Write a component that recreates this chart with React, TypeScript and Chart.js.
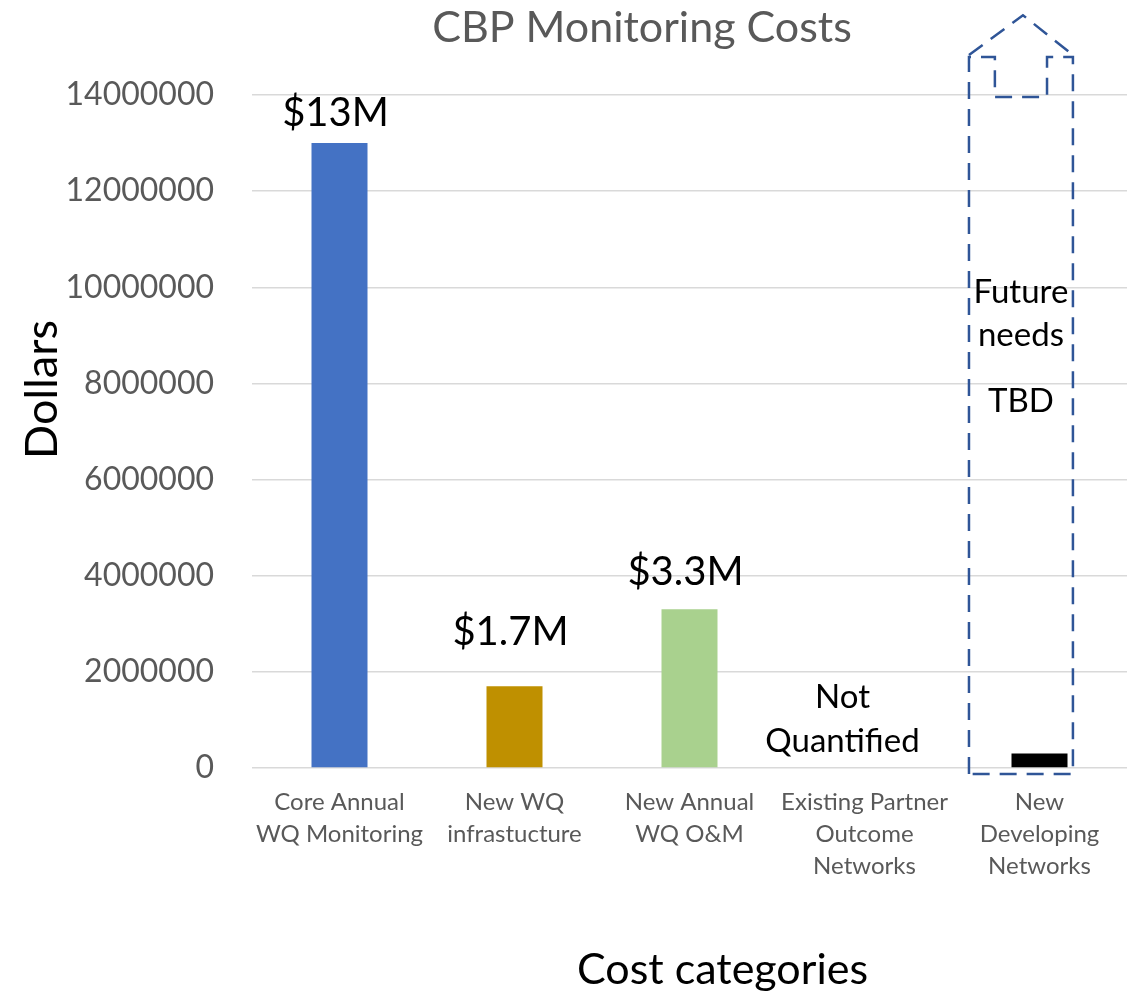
import React, { useEffect, useRef } from "react";
import { Chart, registerables } from "chart.js";

Chart.register(...registerables);

const categories: string[][] = [
  ["Core Annual", "WQ Monitoring"],
  ["New WQ", "infrastucture"],
  ["New Annual", "WQ O&M"],
  ["Existing Partner", "Outcome", "Networks"],
  ["New", "Developing", "Networks"],
];
const costValues: (number | null)[] = [13000000, 1700000, 3300000, null, 300000];
const barColors = ["#4472C4", "#BF9000", "#A9D18E", "#A5A5A5", "#000000"];
const valueLabels: (string | null)[] = ["$13M", "$1.7M", "$3.3M", null, null];
const labelOffsets = [30, 54, 37, 0, 0];
const yTicks = [0, 2000000, 4000000, 6000000, 8000000, 10000000, 12000000, 14000000];
const notQuantifiedText = ["Not", "Quantified"];
const futureText = ["Future", "needs", "TBD"];

const FONT = "Lato, 'Open Sans', sans-serif";

const decorPlugin = {
  id: "decor",
  afterDatasetsDraw(chart: any) {
    const ctx = chart.ctx;
    const xs = chart.scales.x;
    const ys = chart.scales.y;
    const meta = chart.getDatasetMeta(0);
    const catW = xs.getPixelForValue(1) - xs.getPixelForValue(0);

    // value labels
    ctx.save();
    ctx.fillStyle = "#000";
    ctx.font = `40px ${FONT}`;
    ctx.textAlign = "center";
    ctx.textBaseline = "middle";
    valueLabels.forEach((lab, i) => {
      if (!lab) return;
      const el = meta.data[i];
      ctx.fillText(lab, el.x - 4, el.y - labelOffsets[i]);
    });

    // Not Quantified
    ctx.font = `33px ${FONT}`;
    const nqx = xs.getPixelForValue(3) - 22;
    notQuantifiedText.forEach((t, k) => {
      ctx.fillText(t, nqx, ys.bottom - 71 + k * 44);
    });

    // arrow shape
    const cx = xs.getPixelForValue(4) - catW * 0.106;
    const L = cx - catW * 0.297;
    const R = cx + catW * 0.297;
    const nL = cx - catW * 0.149;
    const nR = cx + catW * 0.149;
    const bottom = ys.getPixelForValue(-125000);
    const shoulder = ys.getPixelForValue(14790000);
    const notch = ys.getPixelForValue(13960000);
    const apex = ys.getPixelForValue(15660000);
    ctx.strokeStyle = "#2F5597";
    ctx.lineWidth = 2.5;
    ctx.setLineDash([17, 10]);
    ctx.beginPath();
    ctx.moveTo(L, bottom);
    ctx.lineTo(L, shoulder);
    ctx.lineTo(nL, shoulder);
    ctx.lineTo(nL, notch);
    ctx.lineTo(nR, notch);
    ctx.lineTo(nR, shoulder);
    ctx.lineTo(R, shoulder);
    ctx.lineTo(R, bottom);
    ctx.closePath();
    ctx.stroke();
    ctx.beginPath();
    ctx.moveTo(L, shoulder - 2);
    ctx.lineTo(cx + 2, apex);
    ctx.lineTo(R, shoulder - 2);
    ctx.stroke();
    ctx.setLineDash([]);

    // Future needs TBD
    ctx.fillStyle = "#000";
    ctx.font = `33px ${FONT}`;
    const fy = [ys.getPixelForValue(9900000), ys.getPixelForValue(8990000), ys.getPixelForValue(7620000)];
    futureText.forEach((t, k) => ctx.fillText(t, cx, fy[k]));
    ctx.restore();
  },
  afterDraw(chart: any) {
    const ctx = chart.ctx;
    const area = chart.chartArea;
    ctx.save();
    ctx.textAlign = "center";
    ctx.textBaseline = "middle";
    ctx.fillStyle = "#595959";
    ctx.font = `43px ${FONT}`;
    ctx.fillText("CBP Monitoring Costs", 642, 28);
    ctx.fillStyle = "#000";
    ctx.font = `43px ${FONT}`;
    ctx.fillText("Cost categories", (area.left + area.right) / 2 + 33, 970);
    ctx.translate(42, (area.top + area.bottom) / 2 - 42);
    ctx.rotate(-Math.PI / 2);
    ctx.font = `45px ${FONT}`;
    ctx.fillText("Dollars", 0, 0);
    ctx.restore();
  },
};

export default function App() {
  const ref = useRef<HTMLCanvasElement>(null);
  useEffect(() => {
    document.body.style.margin = "0";
    const chart = new Chart(ref.current!, {
      type: "bar",
      data: {
        labels: categories,
        datasets: [
          {
            data: costValues,
            backgroundColor: barColors,
            barPercentage: 0.64,
            categoryPercentage: 0.5,
          },
        ],
      },
      options: {
        animation: false,
        responsive: false,
        maintainAspectRatio: false,
        layout: { padding: { top: 95, right: 12, left: 0, bottom: 0 } },
        plugins: { legend: { display: false }, title: { display: false }, tooltip: { enabled: false } },
        scales: {
          x: {
            grid: { display: false, drawTicks: false },
            border: { display: false },
            ticks: {
              color: "#595959",
              font: { family: FONT, size: 24, lineHeight: 1.34 },
              padding: 18,
              maxRotation: 0,
              autoSkip: false,
            },
            afterFit(scale: any) {
              scale.height = 227;
            },
          },
          y: {
            min: 0,
            max: 14000000,
            afterBuildTicks(scale: any) {
              scale.ticks = yTicks.map((v) => ({ value: v }));
            },
            grid: { color: "#D9D9D9", lineWidth: 1.5, drawTicks: false },
            border: { display: false },
            ticks: {
              color: "#595959",
              font: { family: FONT, size: 32 },
              padding: 38,
              callback: (v: any) => String(v),
            },
            afterFit(scale: any) {
              scale.width = 252;
            },
          },
        },
      },
      plugins: [decorPlugin],
    });
    return () => chart.destroy();
  }, []);
  return (
    <div style={{ width: 1139, height: 995 }}>
      <canvas ref={ref} width={1139} height={995} style={{ display: "block" }} />
    </div>
  );
}
